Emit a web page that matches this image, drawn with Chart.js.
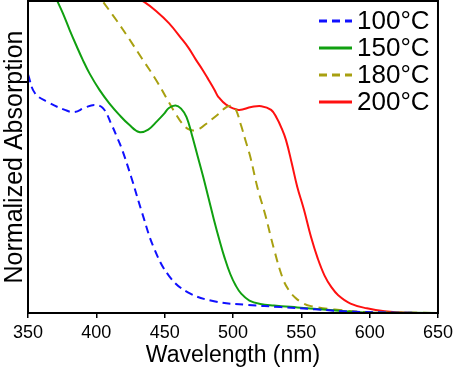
<!DOCTYPE html>
<html>
<head>
<meta charset="utf-8">
<script src="https://cdn.jsdelivr.net/npm/chart.js@4/dist/chart.umd.min.js"></script>
<style>
  html, body { margin: 0; padding: 0; background: #fff; }
  #wrap { width: 457px; height: 369px; }
</style>
</head>
<body>
<div id="wrap"><canvas id="absChart" width="457" height="369"></canvas></div>
<script>
// Series labels (temperatures)
const seriesLabels = ['100°C', '150°C', '180°C', '200°C'];

// x tick values (nm)
const xTicks = [350, 400, 450, 500, 550, 600, 650];

// 100°C
const wl100 = [350, 355, 364.5, 377, 384, 391.5, 398.7, 405, 411, 415.4, 419, 425.5, 433.5, 442, 453, 467, 487, 511, 535, 560, 584, 620, 650];
const abs100 = [0.765, 0.705, 0.676, 0.651, 0.644, 0.658, 0.667, 0.656, 0.605, 0.561, 0.522, 0.436, 0.321, 0.21, 0.12, 0.066, 0.037, 0.026, 0.019, 0.012, 0.005, 0.001, 0];

// 150°C
const wl150 = [366, 371.1, 375.4, 380.5, 385.6, 390, 395, 402.3, 409.5, 416.8, 424.1, 431.3, 438, 444.5, 449.5, 453.1, 458, 462, 466, 470, 474, 478, 482, 486, 490, 494, 498, 502, 506, 512, 520, 530, 547, 571, 596, 650];
const abs150 = [1.05, 1.003, 0.962, 0.907, 0.855, 0.812, 0.768, 0.715, 0.672, 0.635, 0.603, 0.58, 0.588, 0.615, 0.638, 0.657, 0.665, 0.655, 0.628, 0.57, 0.505, 0.44, 0.37, 0.30, 0.235, 0.175, 0.125, 0.088, 0.062, 0.04, 0.029, 0.024, 0.018, 0.010, 0.002, 0];

// 180°C
const wl180 = [398.7, 404, 414.6, 424.1, 433.5, 443.7, 453.1, 458.5, 462.5, 467, 471.3, 476, 480, 489.4, 495.2, 499, 501.8, 506, 509, 512.7, 518, 523.6, 530, 536.5, 541, 545.4, 551, 557, 574.4, 598.4, 650];
const abs180 = [1.035, 1.003, 0.939, 0.878, 0.815, 0.747, 0.675, 0.635, 0.609, 0.59, 0.585, 0.592, 0.605, 0.638, 0.66, 0.664, 0.655, 0.6, 0.555, 0.5, 0.40, 0.315, 0.205, 0.11, 0.072, 0.05, 0.032, 0.022, 0.011, 0.003, 0];

// 200°C
const wl200 = [424, 435, 443.7, 453.1, 462.6, 467.6, 472.7, 477.8, 482.2, 486.5, 489.4, 495.2, 504, 513.4, 520.7, 527.9, 532, 535.2, 538.8, 543, 547, 552, 557, 562, 567, 572, 577, 586, 598, 611, 630, 650];
const abs200 = [1.025, 0.997, 0.968, 0.929, 0.878, 0.849, 0.813, 0.779, 0.747, 0.715, 0.692, 0.667, 0.651, 0.660, 0.663, 0.651, 0.625, 0.596, 0.554, 0.48, 0.405, 0.33, 0.245, 0.175, 0.12, 0.083, 0.057, 0.03, 0.015, 0.006, 0.001, 0];

const colors = ['#1010ff', '#10a010', '#a8a010', '#ff1010'];
const dashes = [[8, 5], [], [9, 6], []];

function toPoints(xs, ys) {
  return xs.map((x, i) => ({ x: x, y: ys[i] }));
}

const allData = [toPoints(wl100, abs100), toPoints(wl150, abs150), toPoints(wl180, abs180), toPoints(wl200, abs200)];

const datasets = allData.map((pts, i) => ({
  label: seriesLabels[i],
  data: pts,
  borderColor: colors[i],
  borderWidth: 2,
  borderDash: dashes[i],
  pointRadius: 0,
  fill: false,
  tension: 0.4
}));

// draws the frame box and the legend in the top right corner
const framePlugin = {
  id: 'framePlugin',
  afterDraw(chart) {
    const ctx = chart.ctx;
    const a = chart.chartArea;
    ctx.save();
    ctx.strokeStyle = '#000';
    ctx.lineWidth = 2;
    ctx.strokeRect(a.left, a.top, a.right - a.left, a.bottom - a.top);

    ctx.font = '26px "Liberation Sans", Arial, sans-serif';
    ctx.textBaseline = 'middle';
    ctx.textAlign = 'left';
    chart.data.datasets.forEach((ds, i) => {
      const y = 21 + i * 27;
      ctx.beginPath();
      ctx.setLineDash(ds.borderDash.length ? [8, 5] : []);
      ctx.strokeStyle = ds.borderColor;
      ctx.lineWidth = 3;
      ctx.moveTo(319, y);
      ctx.lineTo(352, y);
      ctx.stroke();
      ctx.setLineDash([]);
      ctx.fillStyle = '#000';
      ctx.fillText(ds.label, 357, y + 1);
    });
    ctx.restore();
  }
};

new Chart(document.getElementById('absChart'), {
  type: 'line',
  data: { datasets: datasets },
  plugins: [framePlugin],
  options: {
    responsive: false,
    devicePixelRatio: 1,
    animation: false,
    layout: { padding: { top: 1, right: 16, left: 0, bottom: 0 } },
    plugins: {
      legend: { display: false },
      tooltip: { enabled: false }
    },
    scales: {
      x: {
        type: 'linear',
        min: 350,
        max: 650,
        afterBuildTicks: (s) => { s.ticks = xTicks.map(v => ({ value: v })); },
        afterFit: (s) => { s.height = 56; },
        grid: { display: true, drawOnChartArea: false, drawTicks: true, tickLength: 5, color: '#000', lineWidth: 1.5 },
        border: { display: false },
        ticks: {
          color: '#000',
          padding: 4,
          maxRotation: 0,
          font: { family: '"Liberation Sans", Arial, sans-serif', size: 18 }
        },
        title: {
          display: true,
          text: 'Wavelength (nm)',
          color: '#000',
          padding: { top: 0, bottom: 0 },
          font: { family: '"Liberation Sans", Arial, sans-serif', size: 23 }
        }
      },
      y: {
        min: 0,
        max: 1,
        afterFit: (s) => { s.width = 28; },
        grid: { display: false },
        border: { display: false },
        ticks: { display: false },
        title: {
          display: true,
          text: 'Normalized Absorption',
          color: '#000',
          padding: { top: 0, bottom: 0 },
          font: { family: '"Liberation Sans", Arial, sans-serif', size: 25 }
        }
      }
    }
  }
});
</script>
</body>
</html>
